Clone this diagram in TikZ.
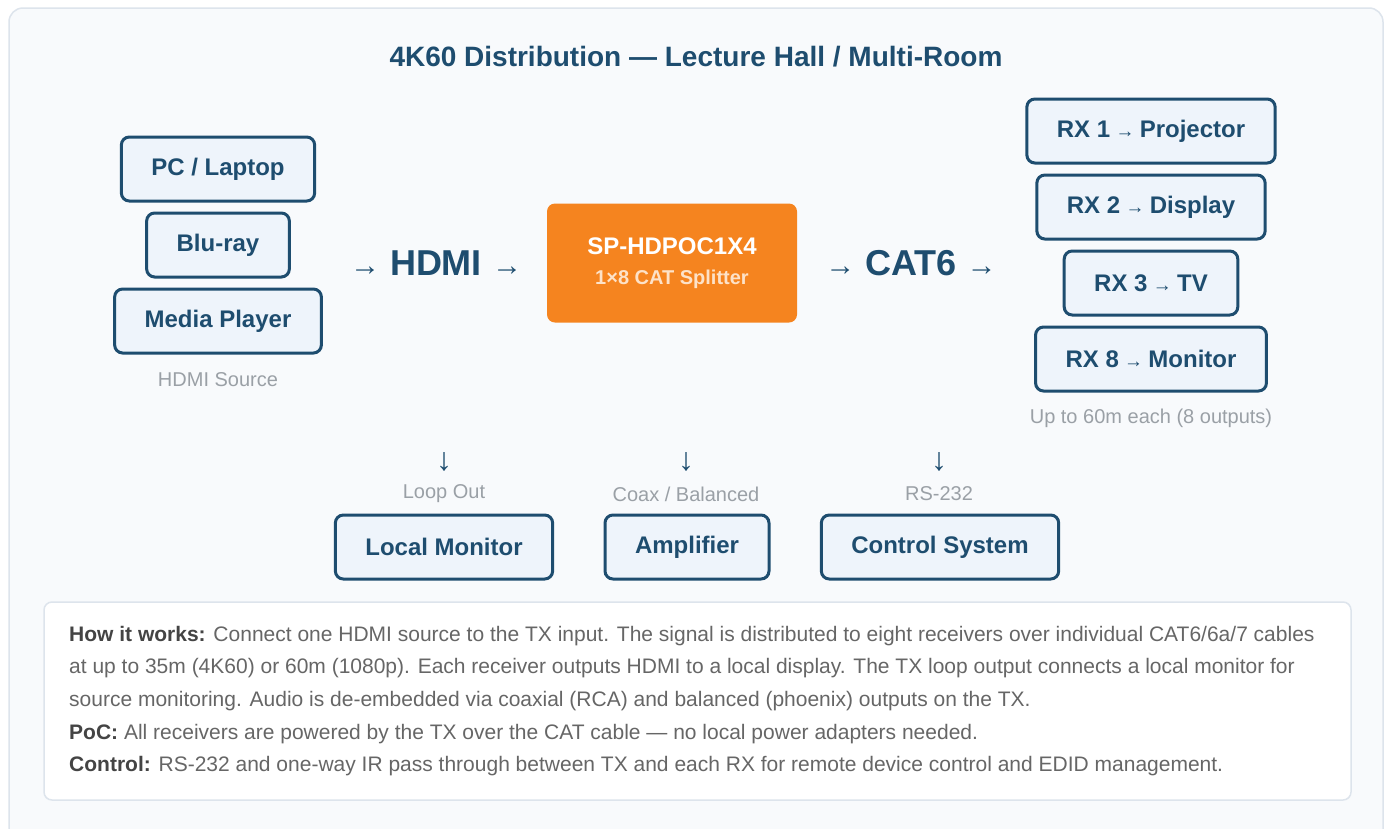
\documentclass[tikz,border=0pt]{standalone}
\usepackage{fontspec}
\setmainfont{Liberation Sans}

\definecolor{navy}{HTML}{1E4D6F}
\definecolor{boxfill}{HTML}{EEF4FB}
\definecolor{cardfill}{HTML}{F8FAFC}
\definecolor{cardline}{HTML}{DDE4EC}
\definecolor{splitter}{HTML}{F5841F}
\definecolor{subtext}{HTML}{FDE2C8}
\definecolor{capgray}{HTML}{9AA0A6}
\definecolor{bodygray}{HTML}{666666}
\definecolor{boldgray}{HTML}{444444}

\tikzset{
  devbox/.style={draw=navy, line width=3pt, fill=boxfill, rounded corners=8pt,
    minimum height=64pt, inner xsep=30pt, text=navy,
    font=\fontsize{24}{28}\selectfont\bfseries},
  caption/.style={text=capgray, font=\fontsize{20}{24}\selectfont},
  bigword/.style={text=navy, font=\fontsize{36}{42}\selectfont\bfseries},
  downarrow/.style={text=navy, font=\fontsize{32}{36}\selectfont},
  infoline/.style={anchor=west, text=bodygray, inner sep=0pt,
    font=\fontsize{21}{25}\selectfont},
}
\newcommand{\sarrow}{{\fontsize{19}{20}\selectfont\ →\ }}
\newcommand{\infohead}[1]{\textbf{\color{boldgray}#1}}

\begin{document}
\begin{tikzpicture}[x=1pt, y=-1pt]
            \useasboundingbox (0, 0) rectangle (1391, 828);
            \fill[white] (0, 0) rectangle (1391, 828);

            % card
            \draw[draw=cardline, fill=cardfill, line width=1.5pt, rounded corners=14pt]
                (9, 8) rectangle (1383, 860);

            \node (title) [text=navy, font=\fontsize{28}{32}\selectfont\bfseries]
                at (696, 57) {4K60 Distribution — Lecture Hall / Multi-Room};

            % sources
            \draw
                (218, 169) node (pc) [devbox] {PC / Laptop}
                (218, 245) node (bluray) [devbox] {Blu-ray}
                (218, 321) node (media) [devbox] {Media Player}
                (218, 380) node (srclabel) [caption] {HDMI Source}
            ;

            % middle chain
            \draw
                (436, 263) node (hdmi) [bigword] {{\fontsize{30}{30}\selectfont\mdseries →} HDMI {\fontsize{30}{30}\selectfont\mdseries →}}
                (672, 263) node (tx) [fill=splitter, rounded corners=8pt,
                    minimum width=250pt, minimum height=119pt, align=center,
                    font=\fontsize{24}{30}\selectfont\bfseries]
                    {{\color{white}SP-HDPOC1X4}\\
                     {\color{subtext}\fontsize{20}{24}\selectfont 1×8 CAT Splitter}}
                (911, 263) node (cat) [bigword] {{\fontsize{30}{30}\selectfont\mdseries →} CAT6 {\fontsize{30}{30}\selectfont\mdseries →}}
            ;

            % receivers
            \draw
                (1151, 131) node (rx1) [devbox] {RX 1\sarrow Projector}
                (1151, 207) node (rx2) [devbox] {RX 2\sarrow Display}
                (1151, 283) node (rx3) [devbox] {RX 3\sarrow TV}
                (1151, 359) node (rx8) [devbox] {RX 8\sarrow Monitor}
                (1151, 418) node (rxlabel) [caption] {Up to 60m each (8 outputs)}
            ;

            % outputs of the TX
            \draw
                (444, 462) node (d1) [downarrow] {↓}
                (686, 462) node (d2) [downarrow] {↓}
                (939, 462) node (d3) [downarrow] {↓}
                (444, 494) node (loop) [caption] {Loop Out}
                (686, 494) node (audio) [caption] {Coax / Balanced}
                (939, 494) node (serial) [caption] {RS-232}
                (444, 547) node (localmon) [devbox] {Local Monitor}
                (687, 547) node (amp) [devbox] {Amplifier}
                (940, 547) node (control) [devbox] {Control System}
            ;

            % how it works
            \draw[draw=cardline, fill=white, line width=1.5pt, rounded corners=8pt]
                (44, 602) rectangle (1351, 800);
            \node (l1) [infoline] at (69, 636) {\infohead{How it works:} Connect one HDMI source to the TX input. The signal is distributed to eight receivers over individual CAT6/6a/7 cables};
            \node (l2) [infoline] at (69, 668) {at up to 35m (4K60) or 60m (1080p). Each receiver outputs HDMI to a local display. The TX loop output connects a local monitor for};
            \node (l3) [infoline] at (69, 701) {source monitoring. Audio is de-embedded via coaxial (RCA) and balanced (phoenix) outputs on the TX.};
            \node (l4) [infoline] at (69, 734) {\infohead{PoC:} All receivers are powered by the TX over the CAT cable — no local power adapters needed.};
            \node (l5) [infoline] at (69, 766) {\infohead{Control:} RS-232 and one-way IR pass through between TX and each RX for remote device control and EDID management.};

        \end{tikzpicture}
\end{document}
